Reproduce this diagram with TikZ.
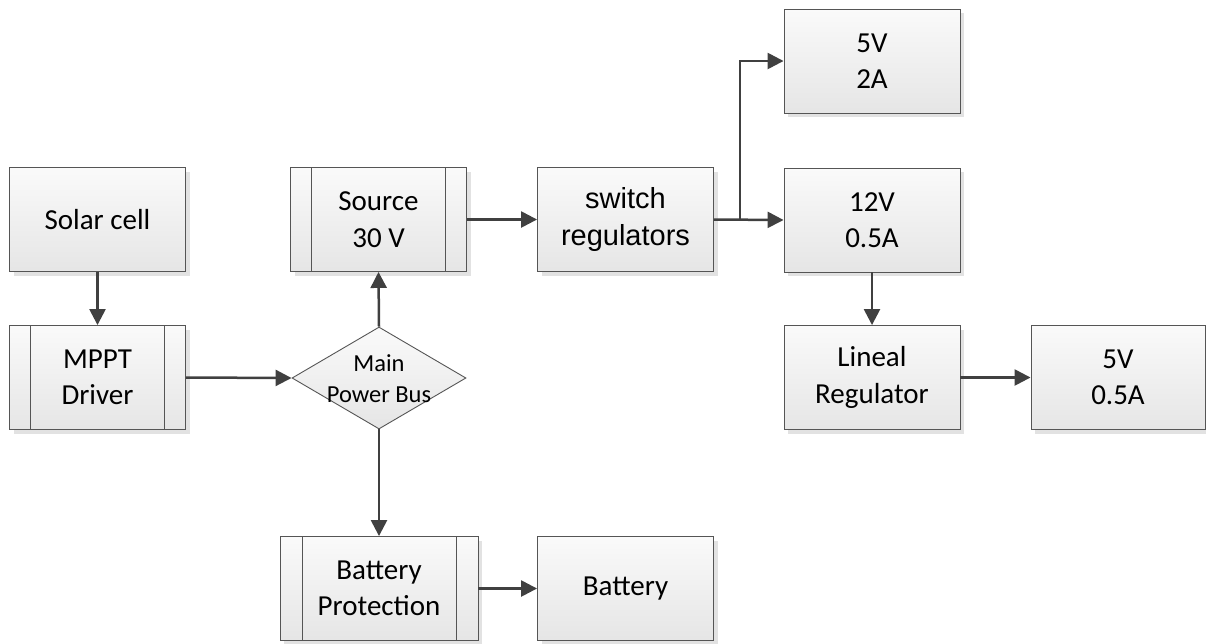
\documentclass[tikz,border=0pt]{standalone}
\usepackage{fontspec}
\setmainfont{Carlito}
\newfontfamily\arialfont{Liberation Sans}
\usetikzlibrary{shapes.geometric,arrows.meta,shadows}
\definecolor{edgegray}{HTML}{555555}
\definecolor{arrowgray}{HTML}{404040}
\definecolor{shadowgray}{HTML}{E2E2E2}
\tikzset{
  blk/.style={draw=edgegray, line width=0.9pt, minimum width=176pt, minimum height=104pt,
    inner sep=0pt, align=center, top color=white!98!black, bottom color=black!10,
    drop shadow={shadow xshift=4pt, shadow yshift=-4pt, fill=shadowgray, opacity=1},
    font=\fontsize{29}{36.5}\selectfont},
  subblk/.style={blk, path picture={
      \draw[edgegray, line width=0.9pt]
        ([xshift=#1]path picture bounding box.north west) -- ([xshift=#1]path picture bounding box.south west)
        ([xshift=-#1]path picture bounding box.north east) -- ([xshift=-#1]path picture bounding box.south east);}},
  subblk/.default=21pt,
  conn/.style={draw=arrowgray, line width=2.5pt, -{Triangle[length=16pt,width=16pt]}},
}
\begin{document}
\begin{tikzpicture}[x=1pt,y=-1pt]
\useasboundingbox (0,0) rectangle (1206,643);
\node[blk] (solar) at (97.5,219.5) {Solar cell};
\node[subblk] (mppt) at (97.5,377.5) {MPPT\\Driver};
\node[subblk] (source) at (378.5,219.5) {Source\\30 V};
\node[blk, font=\arialfont\fontsize{29}{36.5}\selectfont] (switch) at (625.5,219.5) {switch\\regulators};
\node[blk] (v5a) at (872,61) {5V\\2A};
\node[blk] (v12) at (872,220) {12V\\0.5A};
\node[blk] (lineal) at (872,377.5) {Lineal\\Regulator};
\node[blk, minimum width=174pt] (v5b) at (1118,377.5) {5V\\0.5A};
\node[diamond, draw=edgegray, line width=0.9pt, minimum width=174pt, minimum height=102pt,
  inner sep=0pt, top color=white!98!black, bottom color=black!10] (bus) at (379,378) {};
\node[align=center, font=\fontsize{24.5}{31}\selectfont] (bustext) at (379,379) {Main\\Power Bus};
\node[subblk=22pt, minimum width=198pt] (bprot) at (379,588.5) {Battery\\Protection};
\node[blk] (battery) at (625.5,588.5) {Battery};

\draw[conn] (solar.south) -- (mppt.north);
\draw[conn] (mppt.east) -- (bus.west);
\draw[conn] (bus.north) -- (source.south);
\draw[conn] (source.east) -- (switch.west);
\path (switch.east) ++(26pt,0) coordinate (j);
\draw[conn] (switch.east) -- (v12.west);
\draw[conn] (j) |- (v5a.west);
\draw[conn] (v12.south) -- (lineal.north);
\draw[conn] (lineal.east) -- (v5b.west);
\draw[conn] (bus.south) -- (bprot.north);
\draw[conn] (bprot.east) -- (battery.west);
\end{tikzpicture}
\end{document}
